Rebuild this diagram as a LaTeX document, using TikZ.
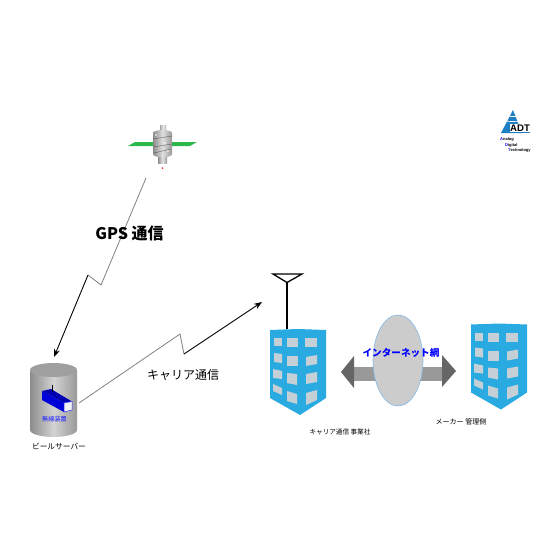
\documentclass[tikz,border=0pt]{standalone}
\usepackage{fontspec}
\usetikzlibrary{shapes.geometric,arrows.meta}
\setmainfont{Noto Sans CJK JP}
\newfontfamily\latinfont{Liberation Sans}
\definecolor{towerblue}{HTML}{29ABE2}
\definecolor{windowgray}{HTML}{C4CFD6}
\definecolor{cloudedge}{HTML}{7FB8E8}
\definecolor{logoblue}{HTML}{1F7FC4}
\definecolor{panelgreen}{HTML}{2DB84B}
\tikzset{
    caption/.style={font=\fontsize{#1}{#1}\selectfont,inner sep=0pt,black},
    radiofar/.style={gray,line width=0.8pt},
    radionear/.style={-{Stealth[length=8pt,width=6pt]},black,line width=0.9pt},
    arrowshaft/.style={fill=gray!80},
    arrowhead/.style={fill=gray!80!black,draw=none},
}
\begin{document}
\begin{tikzpicture}[x=1pt,y=-1pt,>=stealth]
    \useasboundingbox (0,0) rectangle (560,560);

    % 衛星
    \fill[panelgreen] (128,146) -- (135,142) -- (153,142) -- (153,146) -- cycle;
    \fill[panelgreen] (172,142) -- (197,142) -- (190,146) -- (172,146) -- cycle;
    \shade[left color=gray!70,right color=gray!60,middle color=gray!15] (160,131) rectangle (166,125);
    \shade[left color=gray!90,right color=gray!80,middle color=gray!25] (153,133) arc (180:360:9.5 and 3) -- (172,154) arc (0:180:9.5 and 3.5) -- cycle;
    \draw[gray!60!black,line width=0.3pt] (153,139) -- (172,136) (153,147) -- (172,144) (154,153) -- (171,149);
    \fill[white] (156,135) circle (0.8) (165,143) circle (0.8) (168,151) circle (0.8);
    \shade[left color=gray!90,right color=gray!80,middle color=gray!20] (158,157) rectangle (167,163);
    \fill[red!80] (162.5,168) circle (1);

    % 無線端末を収めたサーバー
    \shade[left color=gray!90,right color=gray!80,middle color=gray!35] (30,371) arc (180:360:23.5 and 7) -- (77,430) arc (0:180:23.5 and 7) -- cycle;
    \fill[gray!75] (53.5,370) ellipse (23.5 and 7);
    \fill[blue!70!black] (42,391) -- (51,389) -- (72,401.5) -- (64,403) -- cycle;
    \fill[blue!85!black] (42,391) -- (64,403) -- (64,412) -- (42,400) -- cycle;
    \draw[blue!80,fill=gray!10,line width=0.5pt] (64,403) -- (72,401.5) -- (72,410) -- (64,412) -- cycle;
    \draw[black,line width=1pt] (52.5,385) -- (52.5,392);
    \node[caption=6.2,blue!90] (radiounit) at (54.5,419) {無線装置};
    \node[caption=7.7] (serverlabel) at (59,446) {ビールサーバー};

    % キャリア側とメーカー側のビル
    \foreach \dx/\dy in {0/0,201/-5.5} {
        \begin{scope}[shift={(\dx,\dy)}]
            \fill[towerblue] (270,330) -- (298,329) -- (326,330) -- (326,398) -- (300,415) -- (270,398) -- cycle;
            \foreach \xa/\xb/\ya/\yb/\yc/\yd in {
                274/282/338/338/346/346, 287/298/338/338/347/347, 305/317/338/338/347/347,
                274/282/353/354/363/362, 287/298/356/356/366/366, 306/317/357/355/364/366,
                273/282/369/371/379/378, 287/297/373/374/385/383, 306/317/374/372/382/384,
                273/282/384/388/395/391, 287/297/391/394/404/401, 306/317/393/390/400/405} {
                \fill[windowgray] (\xa,\ya) -- (\xb,\yb) -- (\xb,\yc) -- (\xa,\yd) -- cycle;
            }
        \end{scope}
    }
    \draw[black,line width=1.6pt] (287,329) -- (287,282);
    \draw[black,line width=1.3pt,line join=miter] (273,274) -- (302,274) -- (287,282.5) -- cycle;
    \node[caption=6.6] (carrierlabel) at (340,432) {キャリア通信 事業社};
    \node[caption=7] (makerlabel) at (461,422) {メーカー 管理側};

    % インターネット網と両矢印
    \fill[arrowshaft] (354,367) rectangle (442,381);
    \fill[arrowhead] (341,372) -- (354,356) -- (354,388) -- cycle;
    \fill[arrowhead] (456,371) -- (442,355) -- (442,387) -- cycle;
    \node[draw=cloudedge,fill=gray!40,ellipse,minimum width=50pt,minimum height=91pt,inner sep=0pt,line width=0.6pt] (netcloud) at (398,360.5) {};
    \node[caption=9.6,blue,font=\fontsize{9.6}{9.6}\selectfont\bfseries] (netlabel) at (401,353) {インターネット網};

    % 無線の経路
    \coordinate (gpsstart) at (146,178);
    \coordinate (gpskneea) at (101,285);
    \coordinate (gpskneeb) at (88,275);
    \coordinate (gpsend) at (54,357);
    \draw[radiofar] (gpsstart) -- (gpskneea) -- (gpskneeb);
    \draw[radionear] (gpskneeb) -- (gpsend);
    \coordinate (carrierstart) at (79,403);
    \coordinate (carrierkneea) at (180,334);
    \coordinate (carrierkneeb) at (184,354);
    \coordinate (carrierend) at (262,302);
    \draw[radiofar] (carrierstart) -- (carrierkneea) -- (carrierkneeb);
    \draw[radionear] (carrierkneeb) -- (carrierend);
    \node[caption=16,font=\fontsize{16}{16}\selectfont\bfseries] (gpslabel) at (129.5,233) {GPS 通信};
    \node[caption=12] (carrierlink) at (183,375) {キャリア通信};

    % ロゴ
    \fill[logoblue] (513,110) -- (501,133) -- (522,133) -- cycle;
    \foreach \yy in {116,121} {
        \draw[white,line width=0.7pt] (500,\yy) -- (526,\yy+1);
    }
    \fill[logoblue] (501,132) rectangle (530,133.3);
    \node[caption=9.6,font=\fontsize{9.6}{9.6}\selectfont\latinfont\bfseries,fill=white,inner sep=0.3pt] (logoname) at (520,128) {ADT};
    \node[caption=4,anchor=west,font=\fontsize{4}{4}\selectfont\latinfont\bfseries] (logoa) at (500,139.5) {\textcolor{blue}{A}nalog};
    \node[caption=4,anchor=west,font=\fontsize{4}{4}\selectfont\latinfont\bfseries] (logob) at (505,145) {\textcolor{blue}{D}igital};
    \node[caption=4,anchor=west,font=\fontsize{4}{4}\selectfont\latinfont\bfseries] (logoc) at (508,150.5) {\textcolor{blue}{T}echnology};
\end{tikzpicture}
\end{document}
